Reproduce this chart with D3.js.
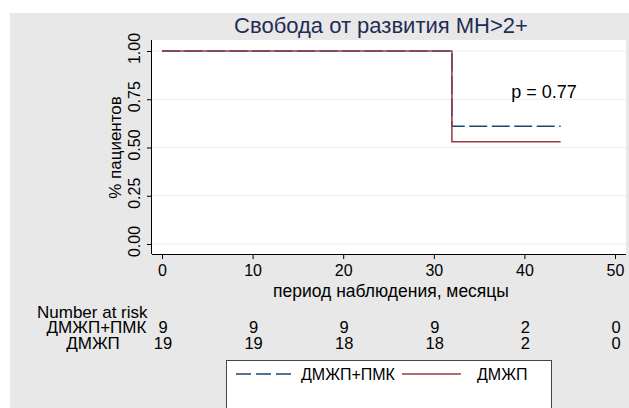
<!DOCTYPE html>
<html><head><meta charset="utf-8">
<script src="https://cdn.jsdelivr.net/npm/d3@7"></script>
<style>
html,body{margin:0;padding:0;background:#fff;}
svg{display:block;font-family:"Liberation Sans",Arial,Helvetica,sans-serif;}
</style></head>
<body><svg id="c" width="629" height="408"></svg>
<script>
const title = "Свобода от развития МН>2+";
const xTitle = "период наблюдения, месяцы";
const yTitle = "% пациентов";
const groupNames = ["ДМЖП+ПМК", "ДМЖП"];
const xTicks = [0, 10, 20, 30, 40, 50];
const yTicks = [0, 0.25, 0.5, 0.75, 1];
const timePMK = [0, 32, 44];
const survPMK = [1.0, 0.61, 0.61];
const timeVSD = [0, 32, 44];
const survVSD = [1.0, 0.53, 0.53];
const riskPMK = [9, 9, 9, 9, 2, 0];
const riskVSD = [19, 19, 18, 18, 2, 0];
const pText = "p = 0.77";
const pPos = [38, 0.80];

const svg = d3.select("#c");
const navy = "#1a476f", maroon = "#9a3b41";

// background graph region
svg.append("rect").attr("x", 10).attr("y", 13).attr("width", 619).attr("height", 395).attr("fill", "#e8e8e8");
// plot region
const pl = {x0: 152, x1: 626, y0: 40, y1: 254};
svg.append("rect").attr("x", pl.x0).attr("y", pl.y0).attr("width", pl.x1 - pl.x0).attr("height", pl.y1 - pl.y0).attr("fill", "#fff");

const x = d3.scaleLinear().domain([0, 50]).range([162, 615]);
const y = d3.scaleLinear().domain([0, 1]).range([244, 51]);

// gridlines
svg.append("g").selectAll("line").data(yTicks).join("line")
  .attr("x1", pl.x0).attr("x2", pl.x1).attr("y1", d => y(d)).attr("y2", d => y(d))
  .attr("stroke", "#e4eef1").attr("stroke-width", 1);

// title
svg.append("text").attr("x", 381).attr("y", 33).attr("text-anchor", "middle")
  .attr("font-size", 22).attr("fill", "#1f2d55").text(title);

// x axis
const gx = svg.append("g").attr("transform", `translate(0,${pl.y1})`)
  .call(d3.axisBottom(x).tickValues(xTicks).tickSize(5).tickPadding(6).tickFormat(d3.format("d")));
gx.select(".domain").attr("d", `M${pl.x0},0.5H${pl.x1}`).attr("stroke", "#000");
gx.selectAll(".tick line").attr("stroke", "#000");
gx.selectAll(".tick text").attr("font-size", 16).attr("fill", "#000").attr("font-family", "Liberation Sans, Arial, sans-serif");

// y axis
const gy = svg.append("g").attr("transform", `translate(${pl.x0},0)`)
  .call(d3.axisLeft(y).tickValues(yTicks).tickSize(5).tickFormat(d3.format(".2f")));
gy.select(".domain").attr("d", `M-0.5,${pl.y0}V${pl.y1}`).attr("stroke", "#000");
gy.selectAll(".tick line").attr("stroke", "#000");
gy.selectAll(".tick text").attr("font-size", 16).attr("fill", "#000")
  .attr("font-family", "Liberation Sans, Arial, sans-serif")
  .attr("x", null).attr("dy", null).attr("text-anchor", "middle")
  .attr("transform", "translate(-12,-3) rotate(-90)");

// axis titles
svg.append("text").attr("x", 391).attr("y", 297).attr("text-anchor", "middle")
  .attr("font-size", 17.5).attr("fill", "#000").text(xTitle);
svg.append("text").attr("transform", `translate(121,${(y(0) + y(1)) / 2}) rotate(-90)`)
  .attr("text-anchor", "middle").attr("font-size", 17).attr("fill", "#000").text(yTitle);

// curves
const line = d3.line().x(d => x(d[0])).y(d => y(d[1])).curve(d3.curveStepAfter);
svg.append("path").datum(d3.zip(timePMK, survPMK)).attr("d", line)
  .attr("fill", "none").attr("stroke", navy).attr("stroke-width", 1.5).attr("stroke-dasharray", "18,4.5");
svg.append("path").datum(d3.zip(timeVSD, survVSD)).attr("d", line)
  .attr("fill", "none").attr("stroke", maroon).attr("stroke-width", 1.5);

// p value
svg.append("text").attr("x", x(pPos[0]) + 5).attr("y", y(pPos[1]) + 8).attr("font-size", 18).attr("fill", "#000").text(pText);

// risk table
svg.append("text").attr("x", 37).attr("y", 318).attr("font-size", 17).attr("fill", "#000").text("Number at risk");
const rows = [riskPMK, riskVSD];
const labelCx = [96.5, 93];
rows.forEach((r, i) => {
  const yy = 333 + i * 16;
  svg.append("text").attr("x", labelCx[i]).attr("y", yy).attr("text-anchor", "middle").attr("font-size", 17).attr("fill", "#000").text(groupNames[i]);
  svg.append("g").selectAll("text").data(r).join("text")
    .attr("x", (d, j) => x(xTicks[j]) + 1).attr("y", yy).attr("text-anchor", "middle")
    .attr("font-size", 16.5).attr("fill", "#000").text(d => d);
});

// legend
const lg = svg.append("g");
lg.append("rect").attr("x", 226.5).attr("y", 360.5).attr("width", 325).attr("height", 60)
  .attr("fill", "#fff").attr("stroke", "#444").attr("stroke-width", 1);
lg.append("line").attr("x1", 236).attr("x2", 291).attr("y1", 374).attr("y2", 374)
  .attr("stroke", navy).attr("stroke-width", 1.5).attr("stroke-dasharray", "15,5");
lg.append("text").attr("x", 301).attr("y", 380).attr("font-size", 16).attr("fill", "#000").text(groupNames[0]);
lg.append("line").attr("x1", 402).attr("x2", 461).attr("y1", 374).attr("y2", 374)
  .attr("stroke", maroon).attr("stroke-width", 1.5);
lg.append("text").attr("x", 477).attr("y", 380).attr("font-size", 16).attr("fill", "#000").text(groupNames[1]);
</script></body></html>
